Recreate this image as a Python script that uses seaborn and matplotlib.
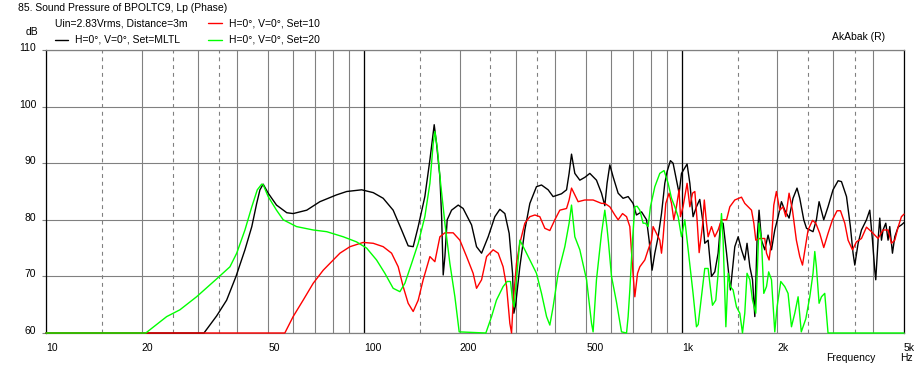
import matplotlib
matplotlib.use("Agg")
import matplotlib.pyplot as plt
import seaborn as sns
import pandas as pd
from matplotlib.lines import Line2D
from matplotlib.transforms import ScaledTranslation

# ---------------- data ----------------
mltl_freq = [10, 31.4, 34.4, 37.0, 39.6, 42.25, 44.4, 46.0, 47.1, 48.2,
             50.0, 53.1, 57.2, 59.9, 66.1, 72.7, 82.0, 88.3, 98.4, 107,
             115, 123.6, 131.4, 137.8, 142.9, 148.2, 155.5, 161.3, 166.4, 169.2,
             173.4, 175.6, 177.6, 179.8, 182.8, 188.7, 198.0, 205.2, 218.1, 226.1,
             234.5, 246.0, 258.2, 267.7, 277.6, 286.4, 293.5, 296.3, 300.0, 309.4,
             320.8, 332.7, 349.0, 362.0, 379.8, 393.7, 418.4, 434.0, 442.1, 449.9,
             460.8, 477.8, 495.4, 513.7, 539.0, 559.0, 572.6, 582.0, 593.7, 608.0,
             630.6, 653.6, 677.9, 702.8, 720.0, 747.0, 774.7, 789.2, 806.4, 822.6,
             842.6, 863.3, 884.2, 898.8, 920.9, 938.8, 966.5, 980.6, 997.8, 1039,
             1060, 1085, 1112, 1139, 1166, 1181, 1210, 1240, 1270, 1301,
             1324, 1349, 1383, 1422, 1468, 1504, 1541, 1578, 1604, 1637,
             1669, 1697, 1725, 1750, 1781, 1824, 1868, 1915, 1961, 2009,
             2058, 2108, 2175, 2238, 2304, 2350, 2419, 2468, 2587, 2651,
             2703, 2796, 2884, 2990, 3102, 3179, 3297, 3391, 3457, 3501,
             3586, 3674, 3810, 3902, 3979, 4046, 4075, 4144, 4195, 4247,
             4296, 4382, 4455, 4510, 4599, 4677, 4791, 4908, 5000]
mltl_db = [60, 60, 63.0, 65.8, 70.0, 74.7, 78.8, 82.9, 85.3, 86.3,
           84.7, 82.6, 81.25, 81.1, 81.7, 83.2, 84.4, 85.0, 85.3, 84.8,
           83.8, 81.7, 78.2, 75.4, 75.25, 78.8, 84.1, 90.6, 96.8, 93.5,
           87.6, 80.5, 70.25, 73.5, 80.0, 81.7, 82.6, 82.0, 79.1, 75.25,
           74.1, 77.0, 80.55, 81.85, 81.1, 77.6, 70.5, 63.5, 64.9, 71.7,
           78.2, 82.9, 85.85, 86.15, 85.3, 84.1, 84.6, 85.3, 88.2, 91.6,
           88.2, 87.0, 87.5, 88.2, 87.0, 84.7, 82.5, 86.45, 89.7, 87.6,
           84.7, 83.8, 84.1, 82.9, 80.85, 81.4, 80.0, 76.4, 71.1, 74.1,
           77.0, 81.1, 86.45, 88.5, 90.45, 90.0, 86.45, 84.7, 88.2, 89.85,
           86.45, 80.55, 82.3, 83.6, 79.5, 75.85, 76.4, 70.0, 70.8, 74.1,
           79.4, 79.4, 74.1, 67.6, 75.25, 77.0, 74.7, 72.9, 75.85, 71.7,
           69.4, 62.9, 76.4, 81.7, 76.4, 74.7, 77.3, 74.7, 78.2, 80.55,
           83.2, 81.7, 80.3, 83.8, 85.6, 83.8, 80.0, 78.5, 77.9, 80.0,
           83.2, 80.0, 82.3, 85.3, 86.9, 86.75, 84.1, 78.8, 74.1, 72.0,
           75.85, 78.2, 80.0, 81.7, 76.4, 71.1, 69.4, 76.4, 80.3, 76.4,
           78.2, 79.4, 76.4, 78.8, 74.1, 77.0, 78.7, 79.1, 79.5]

set10_freq = [10, 56.4, 59.9, 64.4, 69.3, 74.5, 78.2, 84.05, 90.4, 99.5,
              107, 115, 122.2, 128.2, 132.9, 137.8, 142.9, 148.2, 153.6, 161.3,
              167.2, 173.4, 179.8, 190.9, 200.4, 210.4, 220.6, 226.1, 234.5, 243.2,
              255.0, 264.5, 274.1, 281.1, 287.8, 291.4, 294.7, 302.0, 309.4, 320.8,
              332.7, 345.0, 357.6, 370.8, 384.5, 398.7, 413.3, 434.0, 442.1, 449.9,
              460.8, 472, 495.4, 526, 559, 572.6, 593.7, 615.6, 630.6, 651,
              670.2, 686.3, 699.8, 711.6, 725.8, 737.8, 765, 783.6, 803.1, 812.3,
              832.2, 852.7, 863.3, 873.2, 890.6, 912.1, 928.2, 943.7, 961.8, 980.6,
              990.4, 1009, 1039, 1060, 1081, 1099, 1117, 1134, 1162, 1177,
              1196, 1210, 1240, 1270, 1301, 1333, 1383, 1416, 1468, 1541,
              1578, 1657, 1685, 1709, 1759, 1824, 1847, 1882, 1915, 1947,
              1984, 2033, 2082, 2124, 2175, 2229, 2293, 2350, 2397, 2437,
              2496, 2577, 2639, 2716, 2796, 2884, 2978, 3079, 3156, 3256,
              3335, 3443, 3542, 3674, 3810, 3950, 4144, 4296, 4455, 4566,
              4677, 4791, 4908, 5000]
set10_db = [60, 60, 62.9, 65.8, 68.8, 71.1, 72.3, 74.1, 75.25, 76.0,
            75.85, 75.25, 74.1, 71.7, 68.2, 65.25, 63.8, 65.8, 69.4, 73.5,
            72.6, 77.0, 77.7, 77.7, 76.4, 73.5, 70.55, 67.9, 69.4, 73.5,
            74.7, 74.1, 71.7, 68.2, 61.7, 60, 65.25, 72.3, 75.85, 79.4,
            80.55, 80.85, 80.55, 78.5, 78.1, 80.0, 81.7, 82.0, 83.5, 85.6,
            84.4, 83.2, 83.5, 83.5, 82.9, 82.9, 82.3, 80.85, 80.0, 81.1,
            80.55, 78.8, 71.7, 66.4, 70.55, 71.7, 72.9, 74.7, 76.4, 78.8,
            77.6, 76.4, 74.1, 76.8, 82.9, 84.7, 82.9, 80.0, 82.3, 85.3,
            80.55, 82.3, 86.45, 82.3, 84.7, 85.0, 80.0, 74.2, 79.0, 83.5,
            79.4, 77.0, 78.8, 77.0, 78.2, 80.0, 80.0, 82.3, 83.5, 84.0,
            82.9, 81.7, 79.4, 76.4, 76.7, 76.7, 74.1, 72.9, 76.4, 82.6,
            85.0, 81.7, 82.3, 80.55, 84.7, 81.7, 76.4, 73.5, 72.0, 74.5,
            78.2, 79.9, 79.4, 77.6, 75.1, 77.6, 80.0, 81.6, 81.6, 79.4,
            76.4, 74.7, 76.1, 76.7, 78.7, 77.9, 76.7, 78.2, 78.2, 75.85,
            76.4, 78.7, 80.55, 81.0]

set20_freq = [10, 20.6, 23.97, 26.38, 29.76, 34.4, 37.9, 39.8, 42.25, 44.4,
              46.2, 47.7, 48.2, 50.0, 53.1, 55.75, 61.4, 69.3, 76.4, 86.1,
              94.8, 102, 109.6, 116.4, 123.6, 129.8, 134.6, 141.3, 148.2, 155.5,
              161.3, 165.2, 167.2, 170.0, 174.3, 179.8, 186.4, 193.3, 199.4, 241.9,
              252.1, 261.2, 274.1, 282.2, 289.2, 293.5, 296.9, 302, 309.4, 320.8,
              332.7, 349, 362, 375.5, 384.5, 393.7, 408.4, 428.6, 442.1, 449.9,
              460.8, 477.8, 501.7, 520.1, 526, 539, 559, 572.6, 582, 588,
              601, 622.9, 646.2, 670.2, 677.9, 686.3, 699.8, 711.6, 723.5, 737.8,
              755.5, 768, 783.6, 796.8, 822.6, 852.7, 879.4, 905.6, 928.2, 950.7,
              973.8, 997.8, 1022, 1047, 1085, 1112, 1126, 1153, 1181, 1210,
              1225, 1249, 1279, 1301, 1333, 1349, 1376, 1399, 1422, 1450,
              1486, 1522, 1552, 1578, 1604, 1637, 1669, 1709, 1750, 1781,
              1811, 1847, 1876, 1915, 1961, 1994, 2048, 2108, 2159, 2213,
              2267, 2322, 2376, 2455, 2527, 2587, 2620, 2651, 2703, 2750,
              2816, 2884, 5000]
set20_db = [60, 60, 62.9, 64.1, 66.4, 69.55, 71.7, 74.1, 78.2, 82.3,
            85.3, 86.3, 86.2, 84.1, 81.7, 80.0, 78.8, 78.2, 77.9, 77.0,
            76.1, 75.0, 72.9, 70.55, 67.9, 67.3, 68.8, 72.3, 75.85, 80.55,
            86.45, 93.5, 95.6, 92.9, 86.45, 79.4, 72.3, 66.4, 60.2, 60,
            62.9, 65.8, 68.2, 69.1, 69.1, 65.8, 64.6, 69.4, 76.4, 74.7,
            72.9, 70.55, 67.0, 62.9, 61.4, 64.6, 70.55, 75.25, 79.4, 82.6,
            77.0, 74.7, 69.4, 61.7, 60.2, 69.4, 77.6, 81.7, 78.5, 76.0,
            70.0, 65.5, 60.2, 60.0, 62.9, 67.6, 76.4, 82.3, 82.4, 81.7,
            79.4, 79.4, 78.8, 82.3, 85.85, 88.2, 88.7, 86.45, 83.8, 82.3,
            80.55, 77.0, 80.0, 74.7, 67.0, 61.1, 61.5, 66.4, 71.4, 71.4,
            68.8, 64.9, 65.8, 70.55, 81.1, 76.4, 61.1, 70.55, 68.2, 67.6,
            64.6, 63.5, 60, 63.5, 70.55, 69.4, 65.8, 63.5, 79.4, 76.4,
            67.0, 68.2, 70.8, 69.4, 60.2, 64.6, 69.1, 68.2, 67.0, 61.1,
            63.5, 66.4, 60.2, 62.5, 66.4, 70.55, 74.4, 71.7, 65.25, 66.4,
            67.0, 60, 60]

series_names = ["H=0°, V=0°, Set=MLTL", "H=0°, V=0°, Set=10", "H=0°, V=0°, Set=20"]
series_colors = ["#000000", "#ff0000", "#00ff00"]

x_label_values = [10, 20, 50, 100, 200, 500, 1000, 2000, 5000]
x_label_texts = ["10", "20", "50", "100", "200", "500", "1k", "2k", "5k"]
x_solid_grid = [10, 20, 30, 40, 50, 60, 70, 80, 90, 100, 200, 300, 400, 500, 600,
                700, 800, 900, 1000, 2000, 3000, 4000, 5000]
x_dashed_grid = [15, 25, 35, 150, 250, 350, 1500, 2500, 3500]
x_dark_grid = [100, 1000]
y_tick_values = [60, 70, 80, 90, 100, 110]

title_text = "85. Sound Pressure of BPOLTC9, Lp (Phase)"
info_text = "Uin=2.83Vrms, Distance=3m"

# ---------------- figure ----------------
sns.set_theme(style="white")
plt.rcParams["font.family"] = ["Liberation Sans", "DejaVu Sans"]
FS = 7.5
W, H = 924, 371
fig = plt.figure(figsize=(W / 100, H / 100), dpi=100, facecolor="white")
ax = fig.add_axes([46 / W, 1 - 333 / H, (904 - 46) / W, (333 - 50) / H])
ax.set_facecolor("white")

frames = []
for name, f, d in [(series_names[0], mltl_freq, mltl_db),
                   (series_names[1], set10_freq, set10_db),
                   (series_names[2], set20_freq, set20_db)]:
    frames.append(pd.DataFrame({"freq": f, "db": d, "series": name}))
df = pd.concat(frames, ignore_index=True)

sns.lineplot(data=df, x="freq", y="db", hue="series", hue_order=series_names,
             palette=dict(zip(series_names, series_colors)), estimator=None,
             sort=False, legend=False, linewidth=1.0, ax=ax, clip_on=False,
             zorder=3)

ax.set_xscale("log")
ax.set_xlim(10, 5000)
ax.set_ylim(60, 110)

GRID = "#808080"
ax.set_axisbelow(True)
ax.xaxis.set_major_locator(matplotlib.ticker.FixedLocator(x_solid_grid))
ax.xaxis.set_minor_locator(matplotlib.ticker.FixedLocator(x_dashed_grid))
ax.xaxis.set_minor_formatter(matplotlib.ticker.NullFormatter())
lab_map = dict(zip(x_label_values, x_label_texts))
ax.set_xticks(x_solid_grid, labels=[lab_map.get(v, "") for v in x_solid_grid])
ax.grid(True, which="major", axis="x", color=GRID, lw=0.8, ls="-")
ax.grid(True, which="minor", axis="x", color=GRID, lw=0.8, ls=(0, (3.5, 3.5)))
ax.grid(True, which="major", axis="y", color=GRID, lw=0.8, ls="-")
for v in x_dark_grid:
    ax.axvline(v, color="black", lw=0.9, zorder=1.5)

ax.set_yticks(y_tick_values, labels=[str(v) for v in y_tick_values])
ax.tick_params(axis="x", which="both", length=0, pad=7.5, labelsize=FS,
               labelcolor="black")
ax.tick_params(axis="y", which="both", length=3, width=0.8, color=GRID, pad=4,
               labelsize=FS, labelcolor="black", left=True)
for lab in ax.get_xticklabels():
    lab.set_horizontalalignment("left")
for lab in ax.get_yticklabels():
    lab.set_transform(lab.get_transform() + ScaledTranslation(0, 0.03, fig.dpi_scale_trans))
ax.set_xlabel("")
ax.set_ylabel("")

for side, col in [("left", "black"), ("right", "black"), ("top", GRID), ("bottom", GRID)]:
    ax.spines[side].set_visible(True)
    ax.spines[side].set_color(col)
    ax.spines[side].set_linewidth(0.9)

def ftext(px, py, s, ha="left", **kw):
    fig.text(px / W, 1 - py / H, s, ha=ha, va="center", fontsize=FS, color="black", **kw)

ftext(18, 8, title_text)
ftext(55, 23, info_text)
ftext(75, 40, series_names[0])
ftext(229, 23, series_names[1])
ftext(229, 40, series_names[2])
ftext(38, 32, "dB", ha="right")
ftext(885, 37, "AkAbak (R)", ha="right")
ftext(826, 358, "Frequency")
ftext(913, 358, "Hz", ha="right")

for (x0, x1, y, c) in [(55, 68, 40, series_colors[0]), (208, 222, 23, series_colors[1]),
                       (208, 222, 40, series_colors[2])]:
    fig.add_artist(Line2D([x0 / W, x1 / W], [1 - y / H, 1 - y / H], color=c, lw=1.0,
                          transform=fig.transFigure))

fig.savefig("out.png", dpi=100, facecolor="white")
